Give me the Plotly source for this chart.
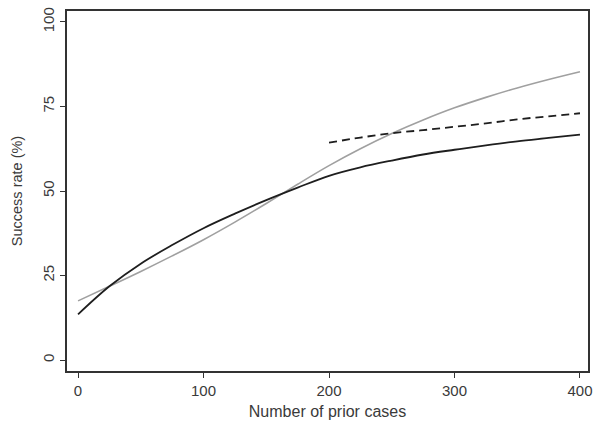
import plotly.graph_objects as go

cases = [0, 25, 50, 75, 100, 125, 150, 175, 200, 225, 250, 275, 300, 325, 350, 375, 400]
black_rate = [13.5, 21.8, 28.5, 34.0, 39.0, 43.3, 47.3, 51.0, 54.5, 57.0, 59.0, 60.8, 62.2, 63.5, 64.7, 65.7, 66.7]
gray_rate = [17.5, 21.8, 26.2, 30.8, 35.6, 40.8, 46.3, 52.0, 57.5, 62.5, 67.0, 71.0, 74.6, 77.7, 80.5, 83.0, 85.3]
dash_cases = [200, 225, 250, 275, 300, 325, 350, 375, 400]
dash_rate = [64.3, 65.8, 67.1, 68.0, 69.0, 70.0, 71.2, 72.1, 73.0]

x_ticks = [0, 100, 200, 300, 400]
y_ticks = [0, 25, 50, 75, 100]

fig = go.Figure()
fig.add_trace(go.Scatter(x=cases, y=gray_rate, mode="lines", line=dict(color="#a0a0a0", width=1.6, shape="spline"), showlegend=False))
fig.add_trace(go.Scatter(x=cases, y=black_rate, mode="lines", line=dict(color="#1e1e1e", width=1.8, shape="spline"), showlegend=False))
fig.add_trace(go.Scatter(x=dash_cases, y=dash_rate, mode="lines", line=dict(color="#1e1e1e", width=1.8, dash="8px,5px", shape="spline"), showlegend=False))

fam = "Liberation Sans, Arial, sans-serif"
tick_font = dict(family=fam, size=15, color="#3a3a3a")
fig.update_layout(
    width=601, height=439,
    margin=dict(l=67, r=13, t=11, b=68),
    paper_bgcolor="white", plot_bgcolor="white",
    font=tick_font,
    xaxis=dict(range=[-8.8, 406.4], tickvals=x_ticks, ticktext=[str(v) for v in x_ticks],
               showgrid=False, zeroline=False, showline=True, linecolor="#333333", linewidth=2,
               mirror=True, ticks="outside", ticklen=5, tickwidth=1, tickcolor="#333333",
               tickfont=tick_font,
               title=dict(text="Number of prior cases", standoff=8,
                          font=dict(family=fam, size=16, color="#3a3a3a")), automargin=False),
    yaxis=dict(range=[-3.25, 103.25], tickvals=y_ticks, ticktext=[str(v) for v in y_ticks],
               showgrid=False, zeroline=False, showline=True, linecolor="#333333", linewidth=2,
               mirror=True, ticks="outside", ticklen=5, tickwidth=1, tickcolor="#333333",
               tickangle=-90, tickfont=tick_font,
               title=dict(text="Success rate (%)", standoff=14,
                          font=dict(family=fam, size=14.5, color="#3a3a3a")), automargin=False),
)
fig.write_html("out.html")

with open("out.html", "r", encoding="utf-8") as f:
    html = f.read()
html = html.replace("<body>", '<body style="margin:0;padding:0;">', 1)
html = html.replace("<head>", '<head><style>html,body{margin:0;padding:0;overflow:hidden;} .modebar-container{display:none !important;}</style>', 1)
with open("out.html", "w", encoding="utf-8") as f:
    f.write(html)
